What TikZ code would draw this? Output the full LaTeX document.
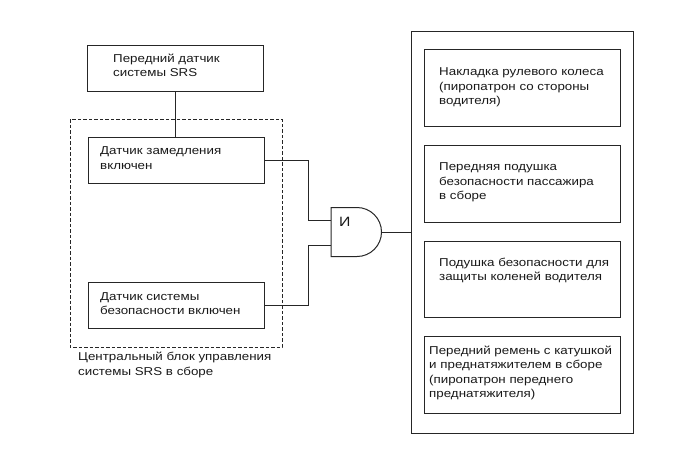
\documentclass[tikz,border=0pt]{standalone}
\usepackage{fontspec}
\setmainfont{Liberation Sans}[FakeStretch=1.17]
\begin{document}
\begin{tikzpicture}[x=1pt,y=-1pt,
  line/.style={draw=black!85, line width=1pt},
  box/.style={line, rectangle, inner sep=0pt, anchor=north west},
  txt/.style={inner sep=0pt, anchor=north west, align=left, text=black!90,
    font=\fontsize{11.4}{14.5}\selectfont},
]
\useasboundingbox (0,0) rectangle (691,467);
% left side
\node[box, minimum width=176pt, minimum height=46pt] (front) at (87,45) {};
\node[txt] (fronttxt) at (113,53.5) {Передний датчик\\системы SRS};
\draw[line, dash pattern=on 3.5pt off 2pt] (70,119) rectangle (282,347);
\node[box, minimum width=176pt, minimum height=46pt] (decel) at (88,137) {};
\node[txt] (deceltxt) at (100,146.5) {Датчик замедления\\включен};
\node[box, minimum width=176pt, minimum height=46pt] (safe) at (88,282) {};
\node[txt] (safetxt) at (100,292) {Датчик системы\\безопасности включен};
\node[txt] (ecu) at (78,352) {Центральный блок управления\\системы SRS в сборе};
\draw[line] (front.south) -- (front.south |- decel.north);
% AND gate
\coordinate (gin1) at (331,220);
\coordinate (gin2) at (331,245);
\coordinate (gout) at (381.5,232);
\draw[line] (331,207.5) -- (357,207.5) arc[start angle=-90, end angle=90, radius=24.5] -- (331,256.5) -- cycle;
\node[txt, font=\fontsize{13.5}{14.5}\selectfont] (andlbl) at (339,217) {И};
\coordinate (j1) at (308,0);
\draw[line] (decel.east) -| (j1 |- gin1) -- (gin1);
\draw[line] (safe.east) -| (j1 |- gin2) -- (gin2);
% right side
\node[box, minimum width=222pt, minimum height=402pt] (out) at (411,31) {};
\draw[line] (gout) -- (gout -| out.west);
\node[box, minimum width=196pt, minimum height=77pt] (bA) at (424,49) {};
\node[txt] (tA) at (439,67.5) {Накладка рулевого колеса\\(пиропатрон со стороны\\водителя)};
\node[box, minimum width=196pt, minimum height=77pt] (bB) at (424,145) {};
\node[txt] (tB) at (439,162.5) {Передняя подушка\\безопасности пассажира\\в сборе};
\node[box, minimum width=196pt, minimum height=76pt] (bC) at (424,241) {};
\node[txt] (tC) at (439,257.5) {Подушка безопасности для\\защиты коленей водителя};
\node[box, minimum width=196pt, minimum height=77pt] (bD) at (424,336) {};
\node[txt] (tD) at (429,345.5) {Передний ремень с катушкой\\и преднатяжителем в сборе\\(пиропатрон переднего\\преднатяжителя)};
\end{tikzpicture}
\end{document}
